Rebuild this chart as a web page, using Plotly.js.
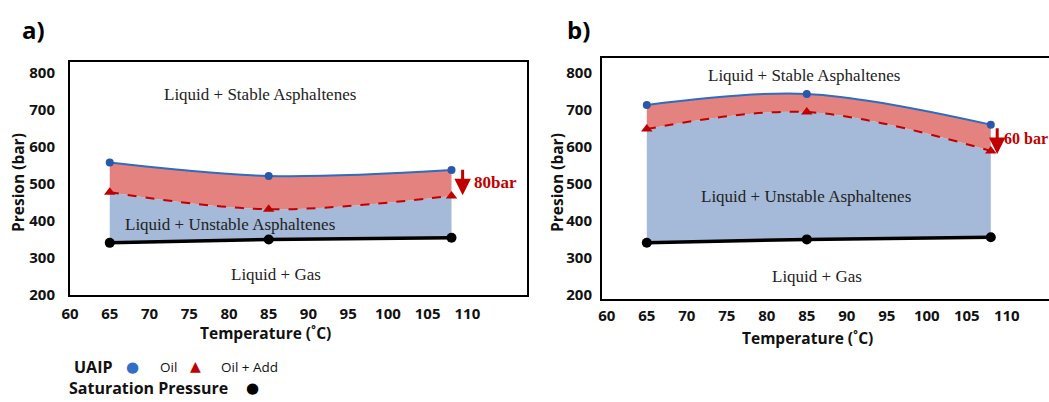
<!DOCTYPE html>
<html>
<head>
<meta charset="utf-8">
<script src="https://cdn.plot.ly/plotly-3.0.1.min.js"></script>
<style>
html,body{margin:0;padding:0;overflow:hidden;background:#fff;}
#chart{width:1070px;height:402px;}
</style>
</head>
<body>
<div id="chart"></div>
<script>
// ---- data ----
const temps = [65, 85, 108];
const oilA = [558, 522, 538];
const addA = [478, 432, 468];
const satA = [341, 350, 355];
const oilB = [713, 743, 660];
const addB = [648, 694, 589];
const satB = [341, 350, 356];
const xTickVals = [60, 65, 70, 75, 80, 85, 90, 95, 100, 105, 110];
const yTickVals = [200, 300, 400, 500, 600, 700, 800];
const regionLabels = ["Liquid + Stable Asphaltenes", "Liquid + Unstable Asphaltenes", "Liquid + Gas"];
const dropA = "80bar";
const dropB = "60 bar";

const W = 1070, H = 402;
const px = x => x / W;
const py = y => 1 - y / H;

const blueLine = 'rgb(47,108,190)';
const blueMark = 'rgb(40,88,168)';
const red = 'rgb(192,0,0)';
const redFill = 'rgb(228,130,128)';
const blueFill = 'rgb(164,186,216)';

function traces(sat, add, oil, xa, ya) {
  return [
    {x: temps, y: sat, xaxis: xa, yaxis: ya, type: 'scatter', mode: 'lines+markers',
     line: {color: 'black', width: 3.5, shape: 'spline'}, marker: {color: 'black', size: 10},
     name: 'Saturation Pressure', showlegend: false},
    {x: temps, y: add, xaxis: xa, yaxis: ya, type: 'scatter', mode: 'lines+markers',
     fill: 'tonexty', fillcolor: blueFill,
     line: {color: red, width: 2, dash: 'dash', shape: 'spline'},
     marker: {color: red, size: 10, symbol: 'triangle-up'},
     name: 'Oil + Add', showlegend: false},
    {x: temps, y: oil, xaxis: xa, yaxis: ya, type: 'scatter', mode: 'lines+markers',
     fill: 'tonexty', fillcolor: redFill,
     line: {color: blueLine, width: 2, shape: 'spline'},
     marker: {color: blueMark, size: 8},
     name: 'Oil', showlegend: false}
  ];
}

const data = [].concat(traces(satA, addA, oilA, 'x', 'y'), traces(satB, addB, oilB, 'x2', 'y2'));

const tickFont = {family: 'Open Sans, sans-serif', size: 15, color: '#111', weight: 'bold'};
function xax(domain, range, standoff) {
  return {domain: domain, range: range, tickvals: xTickVals, ticktext: xTickVals.map(String),
    showgrid: false, zeroline: false, showline: true, mirror: true, linecolor: 'black', linewidth: 2,
    ticks: '', tickfont: tickFont, ticklabelstandoff: standoff, fixedrange: true};
}
function yax(domain, range, anchor, standoff) {
  return {domain: domain, range: range, anchor: anchor, tickvals: yTickVals, ticktext: yTickVals.map(String),
    showgrid: false, zeroline: false, showline: true, mirror: true, linecolor: 'black', linewidth: 2,
    ticks: '', tickfont: tickFont, ticklabelstandoff: standoff, fixedrange: true};
}

const serif = {family: 'Liberation Serif, serif', size: 17, color: '#222'};
const bold = {family: 'Open Sans, sans-serif', size: 15.5, color: '#111', weight: 'bold'};

function ann(text, x, y, font, extra) {
  return Object.assign({text: text, xref: 'paper', yref: 'paper', x: px(x), y: py(y),
    xanchor: 'center', yanchor: 'middle', showarrow: false, font: font}, extra || {});
}

const annotations = [
  ann('a)', 33, 30, {family: 'Open Sans, sans-serif', size: 24, color: '#000', weight: 'bold'}),
  ann('b)', 578, 30, {family: 'Open Sans, sans-serif', size: 24, color: '#000', weight: 'bold'}),
  // region labels a
  ann(regionLabels[0], 260, 95, serif),
  ann(regionLabels[1], 230, 224, serif),
  ann(regionLabels[2], 276, 274, serif),
  // region labels b
  ann(regionLabels[0], 804, 75, serif),
  ann(regionLabels[1], 806, 196, serif),
  ann(regionLabels[2], 817, 276, serif),
  // drop labels
  ann(dropA, 472, 182, {family: 'Liberation Serif, serif', size: 17, color: red, weight: 'bold'}, {xanchor: 'left'}),
  ann(dropB, 1002, 138, {family: 'Liberation Serif, serif', size: 16, color: red, weight: 'bold'}, {xanchor: 'left'}),
  // arrows
  {x: 109.4, y: 470, ax: 109.4, ay: 543, xref: 'x', yref: 'y', axref: 'x', ayref: 'y', text: '',
   showarrow: true, arrowhead: 2, arrowsize: 1.1, arrowwidth: 3, arrowcolor: red},
  {x: 108.8, y: 581, ax: 108.8, ay: 654, xref: 'x2', yref: 'y2', axref: 'x2', ayref: 'y2', text: '',
   showarrow: true, arrowhead: 2, arrowsize: 1.1, arrowwidth: 3, arrowcolor: red},
  // axis titles
  ann('Temperature (˚C)', 265, 333, bold),
  ann('Temperature (˚C)', 807, 338, bold),
  ann('Presion (bar)', 18, 183, bold, {textangle: -90}),
  ann('Presion (bar)', 557, 183, bold, {textangle: -90}),
  // legend
  ann('UAIP', 72, 367, {family: 'Open Sans, sans-serif', size: 16, color: '#111', weight: 'bold'}, {xanchor: 'left'}),
  ann('●', 132, 367, {family: 'DejaVu Sans, sans-serif', size: 15, color: 'rgb(50,110,200)'}),
  ann('Oil', 158, 367, {family: 'Open Sans, sans-serif', size: 13.5, color: '#111'}, {xanchor: 'left'}),
  ann('▲', 195, 366, {family: 'DejaVu Sans, sans-serif', size: 14, color: red}),
  ann('Oil + Add', 219, 367, {family: 'Open Sans, sans-serif', size: 13.5, color: '#111'}, {xanchor: 'left'}),
  ann('Saturation Pressure', 68, 388, {family: 'Open Sans, sans-serif', size: 16, color: '#111', weight: 'bold'}, {xanchor: 'left', borderpad: 0}),
  ann('●', 252, 388, {family: 'DejaVu Sans, sans-serif', size: 15, color: '#000'}, {borderpad: 0})
];

const layout = {
  width: W, height: H,
  margin: {l: 0, r: 0, t: 0, b: 0},
  paper_bgcolor: 'white', plot_bgcolor: 'white',
  showlegend: false,
  xaxis: xax([px(70), px(527)], [60, 117.5], 4),
  yaxis: yax([py(295), py(62)], [200, 830], 'x', 10),
  xaxis2: Object.assign(xax([px(602), px(1062)], [59.4, 116.9], 2), {anchor: 'y2'}),
  yaxis2: yax([py(299), py(58)], [189, 840], 'x2', 5),
  annotations: annotations
};

Plotly.newPlot('chart', data, layout, {displayModeBar: false, staticPlot: true});
</script>
</body>
</html>
